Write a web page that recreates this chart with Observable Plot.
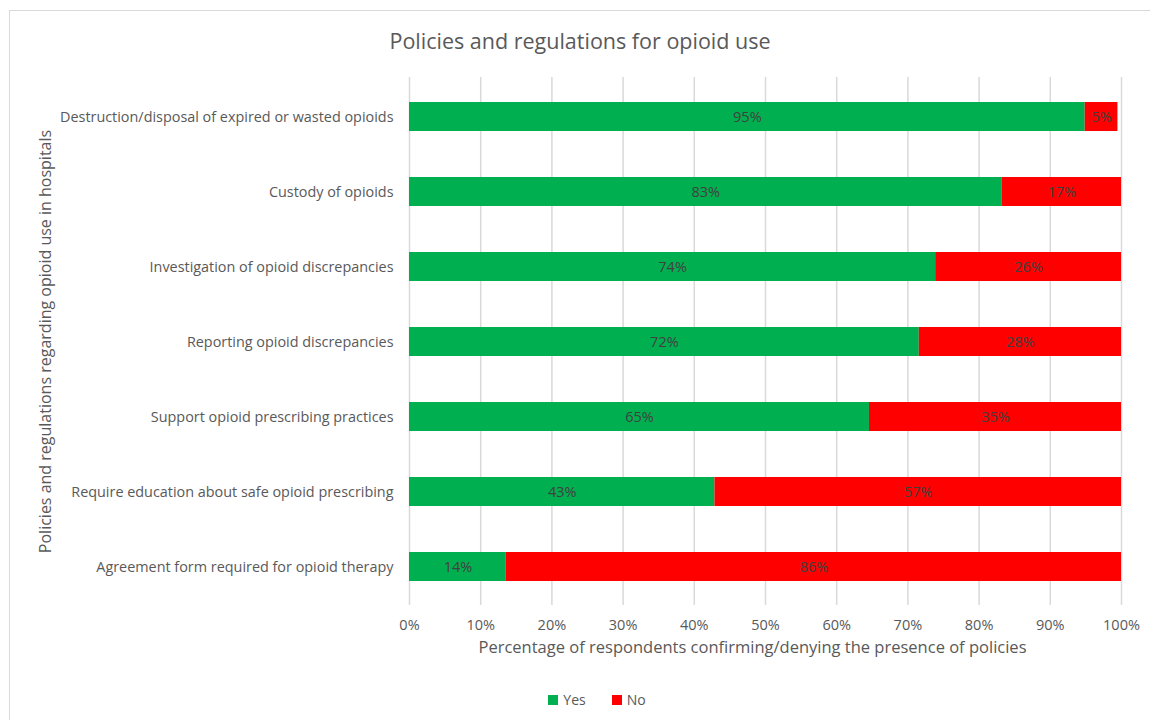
<!DOCTYPE html>
<html>
<head>
<meta charset="utf-8">
<script src="https://cdn.jsdelivr.net/npm/d3@7"></script>
<script src="https://cdn.jsdelivr.net/npm/@observablehq/plot@0.6"></script>
<style>
  body { margin: 0; background: #fff; font-family: "Open Sans", sans-serif; }
  #wrap { position: relative; width: 1150px; height: 720px; overflow: hidden; }
  #frame { position: absolute; left: 9px; top: 10px; width: 1200px; height: 800px; border: 1px solid #d9d9d9; box-sizing: border-box; }
  #title { position: absolute; top: 26px; left: 0; width: 1160px; text-align: center; font-size: 21.5px; color: #595959; }
  #chart { position: absolute; left: 0; top: 0; }
  #legend { position: absolute; top: 690px; left: 0; width: 1194px; text-align: center; font-size: 14px; color: #595959; }
  #legend span.sw { display: inline-block; width: 10px; height: 10px; margin-right: 5px; vertical-align: 0px; }
  #legend span.item { margin: 0 13px; }
</style>
</head>
<body>
<div id="wrap">
  <div id="frame"></div>
  <div id="chart"></div>
  <div id="title">Policies and regulations for opioid use</div>
  <div id="legend"></div>
</div>
<script>
const categories = [
  "Destruction/disposal of expired or wasted opioids",
  "Custody of opioids",
  "Investigation of opioid discrepancies",
  "Reporting opioid discrepancies",
  "Support opioid prescribing practices",
  "Require education about safe opioid prescribing",
  "Agreement form required for opioid therapy"
];
const yesValues = [94.9, 83.2, 73.9, 71.6, 64.6, 42.9, 13.6];
const noValues  = [4.6, 16.8, 26.1, 28.4, 35.4, 57.1, 86.4];
const seriesNames = ["Yes", "No"];
const seriesColors = ["#00B050", "#FF0000"];
const xTicks = [0, 10, 20, 30, 40, 50, 60, 70, 80, 90, 100];

const rows = [];
categories.forEach((c, i) => {
  rows.push({category: c, series: "Yes", value: yesValues[i]});
  rows.push({category: c, series: "No", value: noValues[i]});
});

const chart = Plot.plot({
  width: 1150,
  height: 660,
  marginTop: 77,
  marginBottom: 55,
  marginLeft: 409,
  marginRight: 29,
  style: {fontFamily: "Open Sans, sans-serif", fontSize: "14.4px", color: "#595959", background: "transparent"},
  x: {domain: [0, 100]},
  y: {domain: categories, paddingInner: 0.615, paddingOuter: 0.31},
  color: {domain: seriesNames, range: seriesColors},
  marks: [
    Plot.gridX(xTicks, {stroke: "#d9d9d9", strokeOpacity: 1, strokeWidth: 1.5}),
    Plot.barX(rows, Plot.stackX({x: "value", y: "category", fill: "series", order: seriesNames})),
    Plot.text(rows, Plot.stackX({x: "value", y: "category", z: "series", order: seriesNames,
      text: d => Math.round(d.value) + "%", fill: "#404040", fontSize: 14.5})),
    Plot.axisX(xTicks, {tickFormat: d => d + "%", tickSize: 0, tickPadding: 14, fontSize: 14.5, fill: "#595959",
      label: "Percentage of respondents confirming/denying the presence of policies",
      labelArrow: "none", labelAnchor: "center", labelOffset: 47}),
    Plot.axisY({tickSize: 0, tickPadding: 16, fontSize: 14.4, fill: "#595959",
      label: "Policies and regulations regarding opioid use in hospitals",
      labelArrow: "none", labelAnchor: "center", labelOffset: 370})
  ]
});
document.getElementById("chart").appendChild(chart);
chart.querySelectorAll("g[aria-label='x-axis label'] text").forEach(t => {
  t.textContent = t.textContent.replace(/\s*[→↑←↓]\s*/g, "").trim();
  t.setAttribute("font-size", "16.5");
  t.setAttribute("fill", "#595959");
  t.setAttribute("dx", "-13");
});
chart.querySelectorAll("g[aria-label='y-axis label'] text").forEach(t => {
  t.textContent = t.textContent.replace(/\s*[→↑←↓]\s*/g, "").trim();
  t.setAttribute("font-size", "16");
  t.setAttribute("fill", "#595959");
});

const legend = document.getElementById("legend");
seriesNames.forEach((s, i) => {
  const item = document.createElement("span");
  item.className = "item";
  item.innerHTML = `<span class="sw" style="background:${seriesColors[i]}"></span>${s}`;
  legend.appendChild(item);
});
</script>
</body>
</html>
